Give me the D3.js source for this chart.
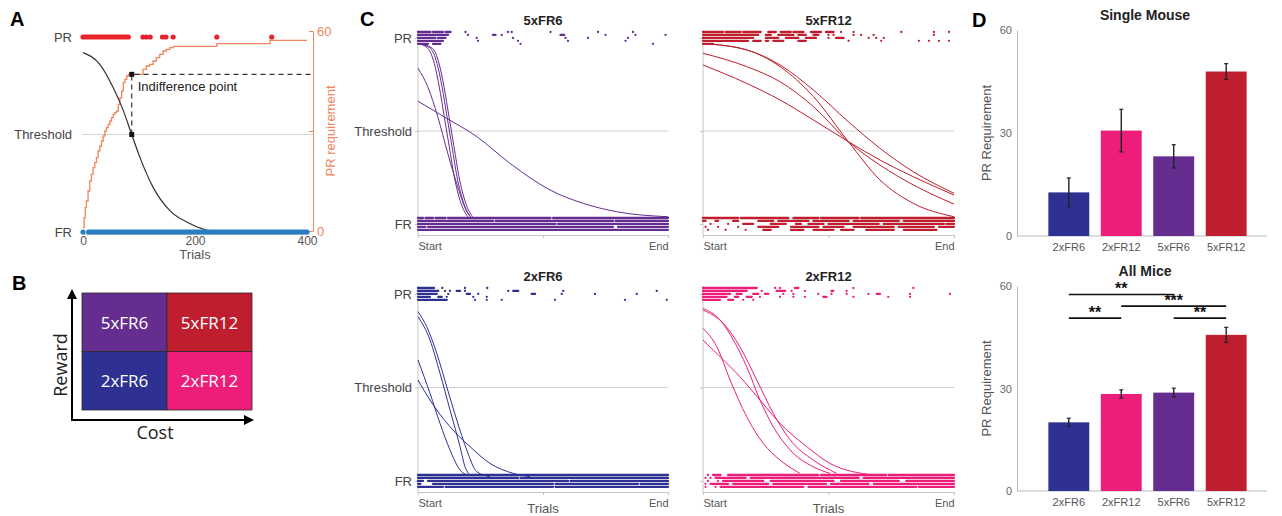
<!DOCTYPE html>
<html>
<head>
<meta charset="utf-8">
<script src="https://cdn.jsdelivr.net/npm/d3@7"></script>
<style>
body { margin: 0; background: #fff; }
svg { font-family: "Liberation Sans", Arial, sans-serif; }
</style>
</head>
<body>
<svg id="fig" width="1282" height="516"></svg>
<script>
// ---------- data ----------
const conditions = ['2xFR6', '2xFR12', '5xFR6', '5xFR12'];
const costLevels = ['FR6', 'FR12'];
const rewardLevels = ['5x', '2x'];

// panel A : one example session
const aTrialTicks = [0, 200, 400];
const aReqTicks = [0, 30, 60];
const aPRRuns = [[0, 81], [107, 107], [113, 113], [120, 120], [142, 142], [148, 148], [161, 161], [239, 239], [337, 337]];
const aFRRuns = [[0, 0], [10, 400]];
const aFitTrials = [0, 30, 54, 71, 87, 102, 125, 155, 186, 220, 240, 400];
const aFitValues = [0.92, 0.86, 0.74, 0.63, 0.5, 0.38, 0.23, 0.11, 0.05, 0.01, 0, 0];
const aReqTrials = [0, 2, 4, 6, 9, 12, 15, 18, 21, 24, 27, 30, 33, 36, 39, 42, 45, 48, 51, 54, 57, 60, 63, 66, 69, 72, 75, 78, 81, 107, 113, 119, 125, 131, 137, 143, 149, 155, 161, 239, 334, 400];
const aReqValues = [1, 4, 7, 9, 12, 15, 17, 19, 20.5, 22, 24, 25.5, 27, 28.5, 30, 31, 32, 33, 34, 35, 35.5, 36, 38, 40, 42, 44.5, 45.5, 46.5, 47, 48.5, 49.5, 50, 51, 52, 53, 54, 54.5, 55, 55.4, 56.2, 57.2, 57.2];
const aIndiffTrial = 87;
const aIndiffReq = 47;

// panel C : choice rasters (runs of trials, 0 = start, 1 = end) and fitted curves
const pr5xFR6 = [
  [[0, 0.05], [0.06, 0.1], [0.11, 0.13], [0.19, 0.19], [0.36, 0.36], [0.375, 0.375], [0.53, 0.53], [0.72, 0.72], [0.86, 0.86]],
  [[0, 0.12], [0.2, 0.2], [0.3, 0.31], [0.335, 0.335], [0.57, 0.585], [0.75, 0.75], [0.87, 0.87], [0.99, 0.99]],
  [[0, 0.07], [0.08, 0.11], [0.235, 0.235], [0.38, 0.38], [0.59, 0.59], [0.68, 0.68], [0.84, 0.84]],
  [[0, 0.1], [0.24, 0.24], [0.4, 0.4], [0.6, 0.6], [0.83, 0.83]],
  [[0, 0.04], [0.06, 0.09], [0.41, 0.41], [0.94, 0.94]]
];
const fr5xFR6 = [
  [[0, 0.02], [0.03, 0.06], [0.07, 0.11], [0.12, 0.53], [0.54, 1]],
  [[0, 0.3], [0.31, 0.78], [0.79, 1]],
  [[0, 0.55], [0.56, 1]],
  [[0, 0.03], [0.04, 0.78], [0.8, 1]],
  [[0, 1]]
];
const curves5xFR6 = [
  [[0, 0.66], [0.115, 0.568], [0.235, 0.47], [0.368, 0.326], [0.528, 0.183], [0.661, 0.111], [0.795, 0.066], [1, 0.039]],
  [[0, 0.837], [0.039, 0.738], [0.079, 0.577], [0.119, 0.38], [0.159, 0.2], [0.199, 0.057], [0.219, 0.03]],
  [[0, 0.971], [0.039, 0.944], [0.065, 0.864], [0.085, 0.738], [0.105, 0.577], [0.125, 0.416], [0.145, 0.254], [0.172, 0.111], [0.199, 0.039]],
  [[0, 0.971], [0.05, 0.944], [0.076, 0.864], [0.096, 0.738], [0.116, 0.577], [0.136, 0.416], [0.156, 0.254], [0.183, 0.111], [0.21, 0.039]],
  [[0, 0.971], [0.058, 0.944], [0.084, 0.864], [0.104, 0.738], [0.124, 0.577], [0.144, 0.416], [0.164, 0.254], [0.191, 0.111], [0.218, 0.039]]
];

const pr5xFR12 = [
  [[0, 0.08], [0.09, 0.15], [0.16, 0.23], [0.26, 0.29], [0.31, 0.35], [0.36, 0.4], [0.43, 0.47], [0.49, 0.52], [0.55, 0.55], [0.6, 0.6], [0.79, 0.79], [0.92, 0.92], [0.98, 0.98]],
  [[0, 0.22], [0.25, 0.27], [0.3, 0.36], [0.38, 0.41], [0.44, 0.46], [0.5, 0.5], [0.52, 0.52], [0.6, 0.6], [0.63, 0.63], [0.68, 0.68], [0.92, 0.92]],
  [[0, 0.2], [0.25, 0.3], [0.33, 0.38], [0.41, 0.45], [0.5, 0.5], [0.53, 0.56], [0.66, 0.66], [0.69, 0.69], [0.72, 0.72]],
  [[0, 0.18], [0.2, 0.23], [0.25, 0.26], [0.28, 0.32], [0.38, 0.41], [0.58, 0.58], [0.71, 0.71], [0.86, 0.86], [0.9, 0.9], [0.94, 0.94], [0.98, 0.98]],
  [[0, 0.04]]
];
const fr5xFR12 = [
  [[0, 0.14], [0.15, 0.34], [0.36, 0.46], [0.47, 0.62], [0.63, 1]],
  [[0, 0.01], [0.05, 0.06], [0.12, 0.14], [0.22, 0.28], [0.3, 0.42], [0.44, 0.58], [0.6, 0.78], [0.8, 1]],
  [[0.03, 0.03], [0.1, 0.1], [0.16, 0.2], [0.27, 0.33], [0.37, 0.39], [0.42, 0.48], [0.5, 0.7], [0.72, 0.96], [0.97, 1]],
  [[0.01, 0.01], [0.06, 0.06], [0.14, 0.14], [0.22, 0.3], [0.35, 0.46], [0.48, 0.56], [0.6, 0.76], [0.78, 0.92], [0.94, 1]],
  [[0.02, 0.02], [0.09, 0.09], [0.17, 0.17], [0.24, 0.27], [0.35, 0.4], [0.44, 0.52], [0.55, 0.6], [0.65, 0.76], [0.8, 0.93]]
];
const curves5xFR12 = [
  [[0, 0.97], [0.174, 0.936], [0.307, 0.846], [0.44, 0.685], [0.579, 0.443], [0.705, 0.237], [0.838, 0.111], [1, 0.039]],
  [[0, 0.97], [0.174, 0.936], [0.307, 0.855], [0.44, 0.72], [0.579, 0.55], [0.705, 0.407], [0.838, 0.281], [1, 0.165]],
  [[0, 0.918], [0.174, 0.846], [0.307, 0.765], [0.44, 0.631], [0.579, 0.443], [0.705, 0.317], [0.838, 0.21], [1, 0.107]],
  [[0, 0.855], [0.174, 0.756], [0.307, 0.667], [0.44, 0.559], [0.579, 0.443], [0.705, 0.344], [0.838, 0.254], [1, 0.156]]
];

const pr2xFR6 = [
  [[0, 0.064], [0.097, 0.097], [0.188, 0.188], [0.277, 0.277]],
  [[0, 0.081], [0.108, 0.108], [0.128, 0.128], [0.155, 0.168], [0.188, 0.188], [0.361, 0.361], [0.381, 0.401], [0.581, 0.581], [0.955, 0.955]],
  [[0, 0.075], [0.121, 0.121], [0.195, 0.208], [0.241, 0.241], [0.455, 0.468], [0.575, 0.575], [0.708, 0.708], [0.875, 0.875]],
  [[0, 0.048], [0.081, 0.095], [0.115, 0.115], [0.221, 0.221], [0.275, 0.275]],
  [[0, 0.115], [0.228, 0.228], [0.275, 0.275], [0.335, 0.335], [0.548, 0.548], [0.828, 0.828], [0.995, 0.995]]
];
const fr2xFR6 = [
  [[0, 1]],
  [[0, 0.4], [0.41, 1]],
  [[0, 0.02], [0.04, 0.6], [0.61, 1]],
  [[0, 0.01], [0.06, 0.54], [0.55, 0.88], [0.89, 1]],
  [[0, 0.1], [0.11, 0.54], [0.55, 1]]
];
const curves2xFR6 = [
  [[0, 0.906], [0.035, 0.825], [0.075, 0.683], [0.115, 0.504], [0.155, 0.326], [0.195, 0.166], [0.235, 0.05], [0.288, 0.023]],
  [[0, 0.879], [0.048, 0.754], [0.088, 0.576], [0.128, 0.38], [0.168, 0.184], [0.188, 0.076], [0.208, 0.032]],
  [[0, 0.647], [0.048, 0.469], [0.088, 0.308], [0.128, 0.166], [0.168, 0.059], [0.195, 0.032]],
  [[0, 0.54], [0.048, 0.433], [0.128, 0.29], [0.208, 0.184], [0.288, 0.094], [0.381, 0.041], [0.448, 0.023]]
];

const pr2xFR12 = [
  [[0, 0.214], [0.287, 0.287], [0.307, 0.307], [0.366, 0.38], [0.599, 0.599], [0.838, 0.838]],
  [[0, 0.174], [0.234, 0.234], [0.293, 0.327], [0.353, 0.353], [0.406, 0.406], [0.512, 0.519], [0.572, 0.572]],
  [[0, 0.108], [0.134, 0.154], [0.2, 0.22], [0.247, 0.26], [0.32, 0.32], [0.36, 0.36], [0.459, 0.459], [0.512, 0.512], [0.572, 0.572], [0.659, 0.659], [0.692, 0.705], [0.825, 0.825], [0.984, 0.984]],
  [[0, 0.094], [0.127, 0.141], [0.174, 0.194], [0.227, 0.227], [0.307, 0.307], [0.36, 0.36], [0.406, 0.406], [0.479, 0.492], [0.599, 0.599], [0.738, 0.738], [0.825, 0.825]],
  [[0, 0.068], [0.1, 0.12], [0.16, 0.16], [0.2, 0.2]]
];
const fr2xFR12 = [
  [[0.02, 0.02], [0.04, 0.07], [0.1, 0.46], [0.47, 0.73], [0.74, 1]],
  [[0.01, 0.01], [0.03, 0.03], [0.05, 0.17], [0.19, 0.62], [0.64, 1]],
  [[0.02, 0.02], [0.06, 0.06], [0.08, 0.24], [0.27, 0.52], [0.55, 0.78], [0.81, 1]],
  [[0.01, 0.01], [0.03, 0.1], [0.12, 0.26], [0.28, 0.49], [0.51, 0.66], [0.68, 1]],
  [[0.01, 0.01], [0.05, 0.05], [0.07, 0.4], [0.42, 0.85], [0.86, 1]]
];
const curves2xFR12 = [
  [[0, 0.923], [0.068, 0.861], [0.121, 0.754], [0.174, 0.611], [0.227, 0.433], [0.28, 0.29], [0.347, 0.166], [0.439, 0.076], [0.506, 0.041]],
  [[0, 0.914], [0.081, 0.843], [0.147, 0.718], [0.214, 0.54], [0.28, 0.362], [0.347, 0.22], [0.439, 0.112], [0.532, 0.041]],
  [[0, 0.816], [0.055, 0.718], [0.108, 0.54], [0.174, 0.344], [0.24, 0.201], [0.307, 0.112], [0.386, 0.041]],
  [[0, 0.754], [0.068, 0.665], [0.147, 0.558], [0.227, 0.433], [0.307, 0.308], [0.413, 0.184], [0.506, 0.094], [0.678, 0.032]]
];

// panel D : indifference points (mean, sem)
const barTicks = [0, 30, 60];
const singleMean = [12.7, 30.7, 23.2, 47.9];
const singleSem = [4.2, 6.2, 3.4, 2.3];
const allMean = [20.1, 28.4, 28.8, 45.7];
const allSem = [1.2, 1.2, 1.3, 2.2];
const sigFrom = ['2xFR6', '2xFR12', '2xFR6', '5xFR6'];
const sigTo = ['5xFR6', '5xFR12', '2xFR12', '5xFR12'];
const sigLevel = [57.5, 54.1, 50.6, 50.6];
const sigStars = ['**', '***', '**', '**'];

// ---------- drawing ----------
const svg = d3.select('#fig');
const color = d3.scaleOrdinal(conditions, ['#2e3192', '#ec1e79', '#662d91', '#be1e2d']);
const textGray = '#444';

function letter(t, x, y) {
  svg.append('text').attr('x', x).attr('y', y).text(t)
    .attr('font-size', 20).attr('font-weight', 'bold').attr('fill', '#000');
}
letter('A', 10, 26);
letter('B', 12, 290);
letter('C', 360, 26);
letter('D', 972, 27);

// ===== Panel A =====
const ax = d3.scaleLinear().domain([0, 400]).range([83, 307]);
const ay = d3.scaleLinear().domain([0, 1]).range([232, 37]);
const ayReq = d3.scaleLinear().domain([0, 60]).range([231, 31]);
const gA = svg.append('g');

gA.append('line')
  .attr('x1', 82).attr('x2', 313).attr('y1', ay(0.5)).attr('y2', ay(0.5))
  .attr('stroke', '#d4d4d4');

gA.append('g')
  .attr('transform', 'translate(0,234)')
  .call(d3.axisBottom(ax).tickValues(aTrialTicks).tickSize(0).tickPadding(2))
  .attr('font-size', 12).attr('font-family', null)
  .call(a => a.select('.domain').attr('stroke', '#ccc'))
  .call(a => a.selectAll('text').attr('fill', '#555'));

gA.append('text').attr('x', ax(200)).attr('y', 259).attr('text-anchor', 'middle')
  .attr('font-size', 13).attr('fill', '#555').text('Trials');

gA.append('g')
  .attr('transform', 'translate(72,0)')
  .call(d3.axisLeft(ay).tickValues([0, 0.5, 1]).tickSize(0).tickPadding(0)
    .tickFormat(d => d === 1 ? 'PR' : d === 0 ? 'FR' : 'Threshold'))
  .attr('font-size', 13).attr('font-family', null)
  .call(a => a.select('.domain').remove())
  .call(a => a.selectAll('text').attr('fill', textGray));

const orange = '#f0845c';
gA.append('g')
  .attr('transform', 'translate(313,0)')
  .call(d3.axisRight(ayReq).tickValues(aReqTicks).tickSizeInner(-4).tickSizeOuter(0).tickPadding(4)
    .tickFormat(d => d === 30 ? '' : d))
  .attr('font-size', 13).attr('font-family', null)
  .call(a => a.select('.domain').attr('stroke', orange))
  .call(a => a.selectAll('line').attr('stroke', orange))
  .call(a => a.selectAll('text').attr('fill', orange));

gA.append('text')
  .attr('transform', 'translate(335,' + ayReq(30) + ') rotate(-90)')
  .attr('text-anchor', 'middle').attr('font-size', 13).attr('fill', orange)
  .text('PR requirement');

// orange staircase of PR requirement
const reqPts = aReqTrials.map((t, i) => [t, aReqValues[i]]);
gA.append('path').datum(reqPts)
  .attr('d', d3.line().x(d => ax(d[0])).y(d => ayReq(d[1])).curve(d3.curveStepAfter))
  .attr('fill', 'none').attr('stroke', orange).attr('stroke-width', 1.3);

// fitted choice curve
const fitPts = aFitTrials.map((t, i) => [t, aFitValues[i]]);
gA.append('path').datum(fitPts)
  .attr('d', d3.line().x(d => ax(d[0])).y(d => ay(d[1])).curve(d3.curveMonotoneX))
  .attr('fill', 'none').attr('stroke', '#333').attr('stroke-width', 1.2);

// indifference point
const ix = ax(aIndiffTrial);
gA.append('path')
  .attr('d', `M${ix},${ay(0.5)}V${ayReq(aIndiffReq)}H313`)
  .attr('fill', 'none').attr('stroke', '#333').attr('stroke-width', 1.2)
  .attr('stroke-dasharray', '5,4');
gA.selectAll('rect.ip').data([ay(0.5), ayReq(aIndiffReq)]).join('rect')
  .attr('x', ix - 2.5).attr('y', d => d - 2.5).attr('width', 5).attr('height', 5).attr('fill', '#111');
gA.append('text').attr('x', ix + 6).attr('y', ayReq(aIndiffReq) + 17)
  .attr('font-size', 13).attr('fill', '#222').text('Indifference point');

function drawRuns(g, runs, xs, y, col, w) {
  g.selectAll(null).data(runs.filter(r => r[0] !== r[1])).join('line')
    .attr('x1', d => xs(d[0])).attr('x2', d => xs(d[1]))
    .attr('y1', y).attr('y2', y)
    .attr('stroke', col).attr('stroke-width', w).attr('stroke-linecap', 'round');
  g.selectAll(null).data(runs.filter(r => r[0] === r[1])).join('circle')
    .attr('cx', d => xs(d[0])).attr('cy', y).attr('r', w / 2).attr('fill', col);
}
drawRuns(gA.append('g'), aPRRuns, ax, ay(1), '#e8242a', 5.2);
drawRuns(gA.append('g'), aFRRuns, ax, ay(0), '#2a7dc4', 5.2);

// ===== Panel B =====
const bx = d3.scaleBand().domain(costLevels).range([82, 252]);
const by = d3.scaleBand().domain(rewardLevels).range([293, 410]);
const gB = svg.append('g');
const cells = [];
rewardLevels.forEach(r => costLevels.forEach(c => cells.push({ r, c, name: r + c })));
gB.selectAll('rect').data(cells).join('rect')
  .attr('x', d => bx(d.c)).attr('y', d => by(d.r))
  .attr('width', bx.bandwidth()).attr('height', by.bandwidth())
  .attr('fill', d => color(d.name)).attr('stroke', '#2a2a2a').attr('stroke-width', 0.8);
gB.selectAll('text.cell').data(cells).join('text')
  .attr('x', d => bx(d.c) + bx.bandwidth() / 2).attr('y', d => by(d.r) + by.bandwidth() / 2)
  .attr('text-anchor', 'middle').attr('dominant-baseline', 'central')
  .attr('font-family', '"Open Sans", sans-serif').attr('font-size', 17).attr('fill', '#fff')
  .text(d => d.name);

svg.append('defs').append('marker')
  .attr('id', 'arrow').attr('viewBox', '0 0 10 10').attr('refX', 2).attr('refY', 5)
  .attr('markerWidth', 5).attr('markerHeight', 5).attr('orient', 'auto')
  .append('path').attr('d', 'M0,0L10,5L0,10Z').attr('fill', '#000');
gB.append('path').attr('d', 'M72,420V297').attr('stroke', '#000').attr('stroke-width', 2)
  .attr('marker-end', 'url(#arrow)');
gB.append('path').attr('d', 'M71,420H246').attr('stroke', '#000').attr('stroke-width', 2)
  .attr('marker-end', 'url(#arrow)');
gB.append('text').attr('transform', 'translate(60,365) rotate(-90)')
  .attr('text-anchor', 'middle').attr('dominant-baseline', 'central')
  .attr('font-family', '"Open Sans", sans-serif').attr('font-size', 18).attr('fill', '#222').text('Reward');
gB.append('text').attr('x', 155).attr('y', 439).attr('text-anchor', 'middle')
  .attr('font-family', '"Open Sans", sans-serif').attr('font-size', 18).attr('fill', '#222').text('Cost');

// ===== Panel C =====
const cPanels = [
  { cond: '5xFR6', x: [418, 668], y: [224, 38], left: true, bottom: false, pr: pr5xFR6, fr: fr5xFR6, curves: curves5xFR6 },
  { cond: '5xFR12', x: [703, 954], y: [224, 38], left: false, bottom: false, pr: pr5xFR12, fr: fr5xFR12, curves: curves5xFR12 },
  { cond: '2xFR6', x: [418, 668], y: [481, 294], left: true, bottom: true, pr: pr2xFR6, fr: fr2xFR6, curves: curves2xFR6 },
  { cond: '2xFR12', x: [703, 954], y: [481, 294], left: false, bottom: true, pr: pr2xFR12, fr: fr2xFR12, curves: curves2xFR12 }
];
const rowOffset = d3.scalePoint().domain([0, 1, 2, 3, 4]).range([-6, 5.8]);

cPanels.forEach(p => {
  const xs = d3.scaleLinear().domain([0, 1]).range(p.x);
  const ys = d3.scaleLinear().domain([0, 1]).range(p.y);
  const col = color(p.cond);
  const g = svg.append('g');
  const axisY = ys(0) + 11;

  g.append('text').attr('x', (p.x[0] + p.x[1]) / 2).attr('y', ys(1) - 13)
    .attr('text-anchor', 'middle').attr('font-size', 13).attr('font-weight', 'bold').attr('fill', '#222')
    .text(p.cond);

  g.append('line').attr('x1', p.x[0]).attr('x2', p.x[1]).attr('y1', ys(0.5)).attr('y2', ys(0.5))
    .attr('stroke', '#d0d0d0');
  g.append('line').attr('x1', p.x[0]).attr('x2', p.x[0]).attr('y1', ys(1) - 8).attr('y2', axisY)
    .attr('stroke', '#c4c4c4');

  g.append('g').attr('transform', `translate(${p.x[0]},0)`)
    .call(d3.axisLeft(ys).tickValues([0, 0.5, 1]).tickSize(3).tickPadding(3)
      .tickFormat(d => !p.left ? '' : d === 1 ? 'PR' : d === 0 ? 'FR' : 'Threshold'))
    .attr('font-size', 13).attr('font-family', null)
    .call(a => a.select('.domain').remove())
    .call(a => a.selectAll('line').attr('stroke', '#c4c4c4'))
    .call(a => a.selectAll('text').attr('fill', textGray));

  g.append('g').attr('transform', `translate(0,${axisY})`)
    .call(d3.axisBottom(xs).tickValues([0, 0.5, 1]).tickSize(3).tickPadding(4)
      .tickFormat(d => d === 0 ? 'Start' : d === 1 ? 'End' : ''))
    .attr('font-size', 11).attr('font-family', null)
    .call(a => a.select('.domain').attr('stroke', '#c4c4c4'))
    .call(a => a.selectAll('line').attr('stroke', '#c4c4c4'))
    .call(a => a.selectAll('text').attr('fill', '#555')
      .attr('text-anchor', d => d === 0 ? 'start' : d === 1 ? 'end' : 'middle'));

  if (p.bottom) {
    g.append('text').attr('x', (p.x[0] + p.x[1]) / 2).attr('y', ys(0) + 32)
      .attr('text-anchor', 'middle').attr('font-size', 13).attr('fill', '#555').text('Trials');
  }

  p.pr.forEach((runs, i) => drawRuns(g.append('g'), runs, xs, ys(1) + rowOffset(i), col, 2.3));
  p.fr.forEach((runs, i) => drawRuns(g.append('g'), runs, xs, ys(0) + rowOffset(i), col, 2.3));

  g.selectAll('path.fit').data(p.curves).join('path')
    .attr('d', d3.line().x(d => xs(d[0])).y(d => ys(d[1])).curve(d3.curveMonotoneX))
    .attr('fill', 'none').attr('stroke', col).attr('stroke-width', 1);
});

// ===== Panel D =====
const dx = d3.scaleBand().domain(conditions).range([1030, 1265]).paddingInner(0.22).paddingOuter(0.35);

function barPanel(means, sems, y0, y1, title, titleY) {
  const y = d3.scaleLinear().domain([0, 60]).range([y0, y1]);
  const g = svg.append('g');
  g.append('text').attr('x', 1145).attr('y', titleY).attr('text-anchor', 'middle')
    .attr('font-size', 14).attr('font-weight', 'bold').attr('fill', '#222').text(title);

  g.append('g').attr('transform', 'translate(1017,0)')
    .call(d3.axisLeft(y).tickValues(barTicks).tickSize(0).tickPadding(5))
    .attr('font-size', 11).attr('font-family', null)
    .call(a => a.select('.domain').attr('stroke', '#bbb'))
    .call(a => a.selectAll('text').attr('fill', '#666'));
  g.append('line').attr('x1', 1017).attr('x2', 1267).attr('y1', y0).attr('y2', y0).attr('stroke', '#bbb');

  g.append('g').attr('transform', `translate(0,${y0})`)
    .call(d3.axisBottom(dx).tickSize(0).tickPadding(7))
    .attr('font-size', 11).attr('font-family', null)
    .call(a => a.select('.domain').remove())
    .call(a => a.selectAll('text').attr('fill', '#555'));

  g.append('text').attr('transform', `translate(991,${(y0 + y1) / 2}) rotate(-90)`)
    .attr('text-anchor', 'middle').attr('font-size', 13).attr('fill', '#555').text('PR Requirement');

  g.selectAll('rect.bar').data(conditions).join('rect')
    .attr('x', d => dx(d)).attr('width', dx.bandwidth())
    .attr('y', (d, i) => y(means[i])).attr('height', (d, i) => y0 - y(means[i]))
    .attr('fill', d => color(d));

  const err = g.selectAll('g.err').data(conditions).join('g')
    .attr('transform', d => `translate(${dx(d) + dx.bandwidth() / 2},0)`);
  err.append('line').attr('y1', (d, i) => y(means[i] - sems[i])).attr('y2', (d, i) => y(means[i] + sems[i]))
    .attr('stroke', '#222').attr('stroke-width', 1.4);
  [-1, 1].forEach(s => {
    err.append('line').attr('x1', -2).attr('x2', 2)
      .attr('y1', (d, i) => y(means[i] + s * sems[i])).attr('y2', (d, i) => y(means[i] + s * sems[i]))
      .attr('stroke', '#222').attr('stroke-width', 1.2);
  });
  return { g, y };
}

barPanel(singleMean, singleSem, 236, 30, 'Single Mouse', 20);
const all = barPanel(allMean, allSem, 491, 286, 'All Mice', 276);

const mid = d => dx(d) + dx.bandwidth() / 2;
sigFrom.forEach((a, i) => {
  const b = sigTo[i];
  const yy = all.y(sigLevel[i]);
  all.g.append('line').attr('x1', mid(a)).attr('x2', mid(b)).attr('y1', yy).attr('y2', yy)
    .attr('stroke', '#111').attr('stroke-width', 1.6);
  all.g.append('text').attr('x', (mid(a) + mid(b)) / 2).attr('y', yy - 0.5)
    .attr('text-anchor', 'middle').attr('font-size', 16).attr('font-weight', 'bold').attr('fill', '#111')
    .text(sigStars[i]);
});
</script>
</body>
</html>
